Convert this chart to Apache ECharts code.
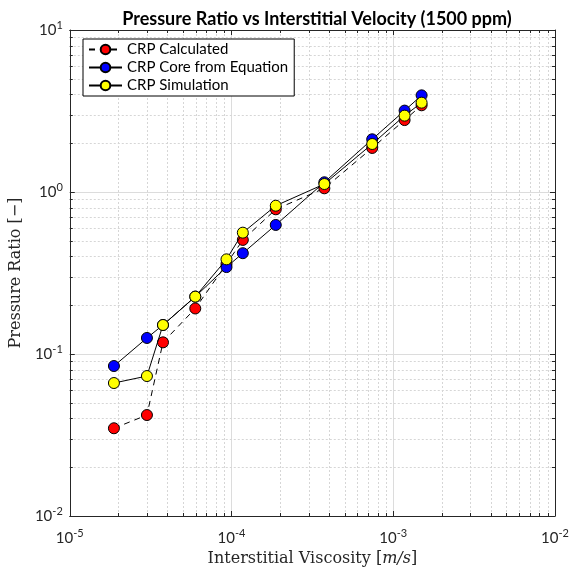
<!DOCTYPE html>
<html>
<head>
<meta charset="utf-8">
<script src="https://cdn.jsdelivr.net/npm/echarts@6/dist/echarts.min.js"></script>
<style>html,body{margin:0;padding:0;background:#fff;}#c{width:573px;height:574px;}</style>
</head>
<body>
<div id="c"></div>
<script>
const velocity = [1.875e-5, 3.0e-5, 3.77e-5, 5.97e-5, 9.31e-5, 1.175e-4, 1.878e-4, 3.75e-4, 7.41e-4, 1.175e-3, 1.497e-3];
const crpCalculated = [0.0348, 0.0420, 0.118, 0.191, 0.36, 0.506, 0.782, 1.054, 1.87, 2.78, 3.43];
const crpCore = [0.0843, 0.1256, 0.151, 0.226, 0.344, 0.419, 0.626, 1.148, 2.115, 3.18, 3.95];
const crpSimulation = [0.0662, 0.0731, 0.151, 0.226, 0.384, 0.561, 0.823, 1.12, 1.978, 2.96, 3.56];
const xDecades = [-5, -4, -3];
const yDecades = [-2, -1, 0];
const minorMultipliers = [2, 3, 4, 5, 6, 7, 8, 9];

const xMinor = [];
xDecades.forEach(d => minorMultipliers.forEach(m => xMinor.push([m * Math.pow(10, d), 1])));
const yMinor = [];
yDecades.forEach(d => minorMultipliers.forEach(m => yMinor.push([1e-4, m * Math.pow(10, d)])));

const axisColor = '#262626';
const majorGrid = '#dcdcdc';
const minorGrid = '#d6d6d6';
const sans = 'Lato, "Open Sans", sans-serif';
const serif = '"DejaVu Serif", "Liberation Serif", serif';

function expLabel(v) {
  const e = Math.round(Math.log10(v));
  return '{b|10}{s|' + e + '}';
}
const labelRich = {
  b: { fontSize: 15, fontFamily: sans, color: axisColor },
  s: { fontSize: 11, fontFamily: sans, color: axisColor, padding: [0, 0, 9, 0] }
};

function lineSeg(x1, y1, x2, y2, style) {
  return { type: 'line', shape: { x1, y1, x2, y2 }, style };
}

const chart = echarts.init(document.getElementById('c'), null, { renderer: 'canvas' });
chart.setOption({
  animation: false,
  backgroundColor: '#fff',
  title: {
    text: 'Pressure Ratio vs Interstitial Velocity (1500 ppm)',
    left: 312, top: 5, textAlign: 'center',
    textStyle: { fontFamily: sans, fontWeight: 'bold', fontSize: 18, color: '#000' }
  },
  grid: { left: 69, top: 30, width: 486, height: 486, containLabel: false },
  legend: {
    orient: 'vertical', left: 83, top: 39,
    backgroundColor: '#fff', borderColor: '#000', borderWidth: 1, borderRadius: 0,
    padding: [3, 6, 3, 5], itemGap: 3, itemWidth: 33, itemHeight: 12,
    textStyle: { fontFamily: sans, fontSize: 15, color: '#000' },
    data: ['CRP Calculated', 'CRP Core from Equation', 'CRP Simulation']
  },
  xAxis: [{
    type: 'log', logBase: 10, min: 1e-5, max: 1e-2, position: 'bottom',
    axisLine: { show: true, onZero: false, lineStyle: { color: axisColor, width: 1 } },
    axisTick: { show: true, inside: true, length: 5, lineStyle: { color: axisColor } },
    axisLabel: { formatter: expLabel, rich: labelRich, margin: 12 },
    splitLine: { show: true, lineStyle: { color: majorGrid, width: 1 } },
    name: '{n|Interstitial Viscosity }{n|[}{i|m/s}{n|]}',
    nameLocation: 'middle', nameGap: 32,
    nameTextStyle: { rich: {
      n: { fontFamily: serif, fontSize: 16, color: axisColor },
      i: { fontFamily: serif, fontSize: 16, fontStyle: 'italic', color: axisColor }
    } }
  }, {
    type: 'log', logBase: 10, min: 1e-5, max: 1e-2, position: 'top',
    axisLine: { show: true, onZero: false, lineStyle: { color: axisColor, width: 1 } },
    axisTick: { show: true, inside: true, length: 5, lineStyle: { color: axisColor } },
    axisLabel: { show: false }, splitLine: { show: false }
  }],
  yAxis: [{
    type: 'log', logBase: 10, min: 1e-2, max: 10, position: 'left',
    axisLine: { show: true, onZero: false, lineStyle: { color: axisColor, width: 1 } },
    axisTick: { show: true, inside: true, length: 5, lineStyle: { color: axisColor } },
    axisLabel: { formatter: expLabel, rich: labelRich, margin: 7 },
    splitLine: { show: true, lineStyle: { color: majorGrid, width: 1 } },
    name: '{n|Pressure Ratio [}{n|\u2212}{n|]}',
    nameLocation: 'middle', nameGap: 43, nameRotate: 90,
    nameTextStyle: { rich: {
      n: { fontFamily: serif, fontSize: 16, color: axisColor }
    } }
  }, {
    type: 'log', logBase: 10, min: 1e-2, max: 10, position: 'right',
    axisLine: { show: true, onZero: false, lineStyle: { color: axisColor, width: 1 } },
    axisTick: { show: true, inside: true, length: 5, lineStyle: { color: axisColor } },
    axisLabel: { show: false }, splitLine: { show: false }
  }],
  series: [
    {
      type: 'custom', silent: true, z: 1, xAxisIndex: 0, yAxisIndex: 0,
      data: xMinor, encode: { x: 0, y: 1 },
      renderItem: function (params, api) {
        const p = api.coord([api.value(0), api.value(1)]);
        const cs = params.coordSys;
        const x = Math.round(p[0]) + 0.5;
        const t = cs.y, b = cs.y + cs.height;
        return { type: 'group', children: [
          lineSeg(x, t, x, b, { stroke: minorGrid, lineWidth: 1, lineDash: [2, 2] }),
          lineSeg(x, b, x, b - 3, { stroke: axisColor, lineWidth: 1 }),
          lineSeg(x, t, x, t + 3, { stroke: axisColor, lineWidth: 1 })
        ] };
      }
    },
    {
      type: 'custom', silent: true, z: 1, xAxisIndex: 0, yAxisIndex: 0,
      data: yMinor, encode: { x: 0, y: 1 },
      renderItem: function (params, api) {
        const p = api.coord([api.value(0), api.value(1)]);
        const cs = params.coordSys;
        const y = Math.round(p[1]) + 0.5;
        const l = cs.x, r = cs.x + cs.width;
        return { type: 'group', children: [
          lineSeg(l, y, r, y, { stroke: minorGrid, lineWidth: 1, lineDash: [2, 2] }),
          lineSeg(l, y, l + 3, y, { stroke: axisColor, lineWidth: 1 }),
          lineSeg(r, y, r - 3, y, { stroke: axisColor, lineWidth: 1 })
        ] };
      }
    },
    {
      name: 'CRP Calculated', type: 'line', z: 3,
      data: velocity.map((v, i) => [v, crpCalculated[i]]),
      symbol: 'circle', symbolSize: 11,
      lineStyle: { color: '#000', width: 1, type: [6, 5] },
      itemStyle: { color: '#ff0000', borderColor: '#000', borderWidth: 1 }
    },
    {
      name: 'CRP Core from Equation', type: 'line', z: 4,
      data: velocity.map((v, i) => [v, crpCore[i]]),
      symbol: 'circle', symbolSize: 11,
      lineStyle: { color: '#000', width: 1 },
      itemStyle: { color: '#0000ff', borderColor: '#000', borderWidth: 1 }
    },
    {
      name: 'CRP Simulation', type: 'line', z: 5,
      data: velocity.map((v, i) => [v, crpSimulation[i]]),
      symbol: 'circle', symbolSize: 11,
      lineStyle: { color: '#000', width: 1 },
      itemStyle: { color: '#ffff00', borderColor: '#000', borderWidth: 1 }
    }
  ]
});
</script>
</body>
</html>
